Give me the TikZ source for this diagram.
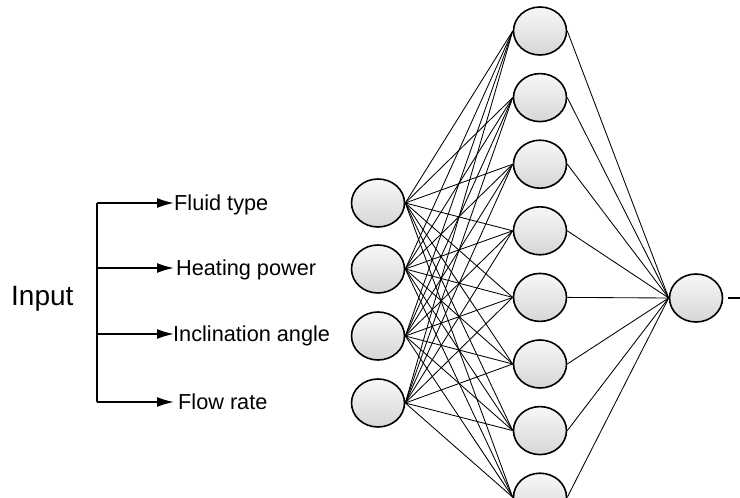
\documentclass[tikz,border=0pt]{standalone}
\usepackage{fontspec}
\setmainfont{Liberation Sans}
\usetikzlibrary{arrows,arrows.meta,shapes.geometric}

\begin{document}
\begin{tikzpicture}[x=1pt,y=-1pt,>=latex,
  neuron/.style={ellipse,draw,line width=1.6pt,minimum width=53pt,minimum height=48pt,inner sep=0pt,top color=gray!6,bottom color=gray!32},
  link/.style={line width=0.85pt},
  feed/.style={line width=1.7pt,-{Latex[length=17pt,width=10pt]}},
  inname/.style={anchor=base west,inner sep=0pt,font=\fontsize{21.7}{26}\selectfont}]

  \clip (0,0) rectangle (740,498);

  % layers
  \foreach \y/\n in {203/i1,269/i2,336/i3,403/i4}
    \node[neuron] (\n) at (378,\y) {};
  \foreach \k in {1,...,8}
    \node[neuron] (h\k) at (540,{31+66.6*(\k-1)}) {};
  \node[neuron] (o) at (696,298) {};

  \foreach \i in {1,...,4}
    \foreach \k in {1,...,8}
      \draw[link] (i\i.east) -- (h\k.west);
  \foreach \k in {1,...,8}
    \draw[link] (h\k.east) -- (o.west);

  \coordinate (oend) at (742,298);
  \draw[line width=1.6pt] ([xshift=5pt]o.east) -- (oend);

  % input bracket
  \node[anchor=base west,inner sep=0pt,font=\fontsize{28}{34}\selectfont] (input) at (11,305) {Input};
  \coordinate (btop) at (97,203);
  \coordinate (bbot) at (97,402);
  \draw[line width=1.7pt] (btop) -- (bbot);

  \foreach \y/\x/\n/\t in {
    {203/174/f1/Fluid type},
    {268/176/f2/Heating power},
    {334/173/f3/Inclination angle},
    {402/178/f4/Flow rate}}
  {
    \coordinate (\n s) at (97,\y);
    \coordinate (\n e) at (174,\y);
    \node[inname] (\n) at (\x,\y+7.8) {\t};
    \draw[feed] (\n s) -- (\n e);
  }
\end{tikzpicture}
\end{document}
